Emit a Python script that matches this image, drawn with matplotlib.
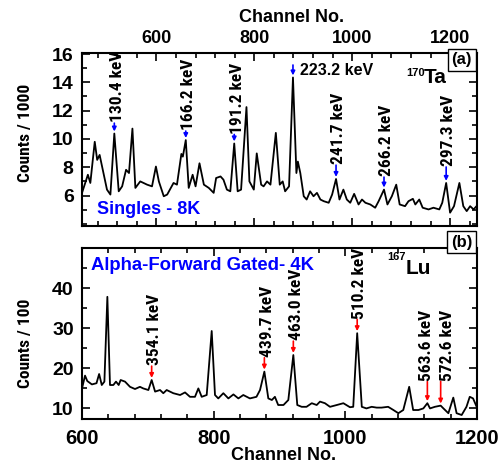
import matplotlib.pyplot as plt
from matplotlib.ticker import MultipleLocator

# fonts
bold_font = 'Liberation Sans'
narrow_font = ['Roboto Condensed', 'Archivo Narrow', 'Liberation Sans']
plt.rcParams['font.family'] = bold_font

# (a) Singles - 8K, 170Ta : channel, counts/1000
top_ch = [448, 460, 465, 474, 479, 484, 489, 499, 506, 514, 523, 530, 538, 544, 551,
          557, 567, 581, 591, 599, 605, 615, 622, 635, 642, 651, 654, 660, 666, 674,
          680, 688, 697, 707, 717, 722, 731, 737, 744, 751, 759, 766, 773, 784, 790,
          799, 805, 814, 819, 826, 833, 844, 852, 858, 863, 871, 879, 886, 889, 894,
          901, 907, 914, 921, 928, 935, 942, 952, 959, 967, 974, 982, 989, 996, 1004,
          1013, 1020, 1027, 1037, 1047, 1054, 1065, 1072, 1081, 1090, 1097, 1108, 1115,
          1124, 1129, 1137, 1144, 1156, 1166, 1178, 1184, 1192, 1200, 1208, 1219, 1227,
          1234, 1241, 1248, 1254]
top_cnt = [6.19, 7.47, 6.89, 9.80, 8.52, 8.87, 8.05, 6.42, 6.07, 10.38, 6.30, 6.65, 7.82, 7.59, 10.73,
           6.54, 7.00, 6.77, 6.65, 8.05, 7.00, 5.95, 6.07, 6.89, 6.77, 8.94, 8.75, 9.92, 6.54, 7.47,
           6.65, 8.28, 6.77, 6.54, 6.19, 7.24, 7.35, 7.12, 6.42, 6.30, 9.68, 6.30, 6.42, 12.25, 7.00,
           6.42, 8.98, 6.77, 6.65, 7.00, 6.77, 10.43, 6.77, 7.00, 6.30, 6.65, 14.34, 7.59, 8.40, 7.59,
           5.95, 5.72, 6.30, 5.95, 6.19, 5.72, 5.60, 5.49, 6.07, 7.17, 5.72, 6.42, 5.72, 5.49, 6.12,
           5.37, 5.72, 5.49, 5.37, 5.14, 5.60, 6.42, 5.37, 5.95, 6.77, 5.37, 5.25, 5.60,
           5.77, 5.37, 5.72, 5.14, 5.02, 5.14, 5.02, 5.49, 6.89, 4.79, 5.25, 6.89, 5.25,
           4.90, 5.25, 5.02, 5.25]
top_peak_ch = [514, 660, 759, 967, 1065, 1192]
top_peak_cnt = [10.38, 9.92, 9.68, 7.17, 6.42, 6.89]
top_peak_lbl = ['130.4 keV', '166.2 keV', '191.2 keV', '241.7 keV', '266.2 keV', '297.3 keV']
top_lbl_gap = [8, 7, 7, 10.5, 9.5, 12]
top_lbl_dx = [2, 2, 2, 2, 2, 2]
big_peak = (879, 14.34, '223.2 keV')

# (b) Alpha-Forward Gated - 4K, 167Lu : channel, counts/100
bot_ch = [600, 604.6, 608, 615, 622, 626, 630, 634, 638.5, 642.5, 647.6, 651.6, 655.7, 658.7,
          665.3, 672.9, 680.5, 688, 693, 700.8, 705.8, 711, 718.5, 723.5, 728.6, 738.7, 749,
          756.5, 764, 771.6, 776.7, 781.8, 789.4, 797, 802, 807, 814.7, 822.3, 830, 837.5, 845,
          855, 865, 870.4, 877, 883, 888.4, 893, 898, 906, 913.4, 921, 927, 933.7, 941, 949,
          956.5, 961.5, 969, 976.7, 987, 997, 1007, 1012, 1018, 1025, 1032, 1040, 1047.6, 1055,
          1065, 1073, 1080.5, 1088, 1097, 1103, 1111, 1118.5, 1124.6, 1128.6, 1136, 1144.8, 1149,
          1156.5, 1164, 1169, 1176.7, 1184, 1189, 1194, 1199.5]
bot_cnt = [14.9, 18.1, 16.75, 15.9, 16.2, 18.5, 15.75, 16.6, 37.8, 15.75, 15.75, 16.6, 15.75, 17.0,
           16.6, 15.3, 14.75, 15.3, 14.9, 14.5, 17.0, 14.1, 14.5, 13.7, 14.5, 13.7, 13.25,
           13.9, 12.8, 12.8, 14.9, 12.8, 13.25, 29.25, 13.25, 12.4, 13.7, 12.4, 13.4, 12.4, 13.25,
           12.4, 12.8, 14.5, 19.1, 12.4, 12.0, 12.8, 10.75, 10.75, 12.0, 23.25, 10.75, 10.3, 10.3, 11.2,
           10.75, 11.6, 11.2, 10.3, 10.75, 11.2, 10.2, 10.3, 28.7, 10.3, 9.9, 10.3, 10.1, 10.1,
           10.3, 9.5, 8.7, 9.5, 15.3, 9.5, 9.5, 9.9, 11.2, 9.9, 10.3, 10.6, 9.9,
           8.7, 12.6, 8.7, 8.25, 10.3, 12.8, 12.4, 10.3]
bot_peak_ch = [705.8, 877, 921, 1018, 1124.6, 1144.8]
bot_peak_cnt = [17.0, 19.1, 23.25, 28.7, 11.2, 10.6]
bot_peak_lbl = ['354.1 keV', '439.7 keV', '463.0 keV', '510.2 keV', '563.6 keV', '572.6 keV']
bot_lbl_gap = [10.5, 10.5, 10.5, 10.5, 16, 18]
bot_lbl_dx = [2, 2, 2, 2, -0.5, 5]

fig = plt.figure(figsize=(5.01, 4.65), dpi=100)
ax1 = fig.add_axes([0.1637, 0.514, 0.7884, 0.372])
ax2 = fig.add_axes([0.1637, 0.0989, 0.7884, 0.3677])

for ax in (ax1, ax2):
    for s in ax.spines.values():
        s.set_linewidth(1.5)
    ax.tick_params(which='both', direction='in', top=True, right=True, width=1.2)
    ax.tick_params(which='major', length=6)
    ax.tick_params(which='minor', length=3.5)
    ax.xaxis.set_major_locator(MultipleLocator(200))
    ax.xaxis.set_minor_locator(MultipleLocator(40))


def mark(ax, c, v, lbl, gap, dx, col):
    ax.annotate('', xy=(c, v), xytext=(0, gap - 0.5), textcoords='offset points',
                arrowprops=dict(arrowstyle='-|>', color=col, lw=1.2,
                                shrinkA=0, shrinkB=1.5, mutation_scale=6))
    ax.annotate(lbl, xy=(c, v), xytext=(dx, gap), textcoords='offset points',
                rotation=90, ha='center', va='bottom', fontsize=12.5,
                family=narrow_font, fontweight='semibold')


# ---- top panel
ax1.plot(top_ch, top_cnt, '-k', linewidth=1.3)
ax1.set_xlim(448, 1255)
ax1.set_ylim(3.85, 16.07)
ax1.set_yticks([6, 8, 10, 12, 14, 16])
ax1.yaxis.set_minor_locator(MultipleLocator(1))
ax1.tick_params(axis='x', labeltop=True, labelbottom=False, labelsize=13, pad=4)
ax1.tick_params(axis='y', labelsize=14, pad=6)
for t in ax1.get_xticklabels() + ax1.get_yticklabels():
    t.set_fontweight('bold')
ax1.set_xlabel('Channel No.', fontsize=13, fontweight='bold')
ax1.xaxis.set_label_position('top')
ax1.xaxis.set_label_coords(0.53, 1.18)
ax1.set_ylabel('Counts / 1000', fontsize=12.5, family=narrow_font, fontweight='semibold')
ax1.yaxis.set_label_coords(-0.124, 0.54)

for c, v, l, g, d in zip(top_peak_ch, top_peak_cnt, top_peak_lbl, top_lbl_gap, top_lbl_dx):
    mark(ax1, c, v, l, g, d, 'blue')
ax1.annotate('', xy=(big_peak[0], big_peak[1]), xytext=(0, 9), textcoords='offset points',
             arrowprops=dict(arrowstyle='-|>', color='blue', lw=1.2,
                             shrinkA=0, shrinkB=1.5, mutation_scale=6))
ax1.annotate(big_peak[2], xy=(big_peak[0], big_peak[1]), xytext=(5, 5),
             textcoords='offset points', ha='left', va='center',
             fontsize=11.5, fontweight='bold')

ax1.text(0.038, 0.098, 'Singles - 8K', transform=ax1.transAxes, color='blue',
         fontsize=13, fontweight='bold', va='center', ha='left')
ax1.text(0.868, 0.885, '170', transform=ax1.transAxes, fontsize=8,
         fontweight='bold', ha='right', va='center')
ax1.text(0.866, 0.858, 'Ta', transform=ax1.transAxes, fontsize=15,
         fontweight='bold', ha='left', va='center')
ax1.text(0.961, 0.96, '(a)', transform=ax1.transAxes, fontsize=12,
         fontweight='bold', ha='center', va='center',
         bbox=dict(boxstyle='square,pad=0.22', fc='white', ec='black', lw=1))

# ---- bottom panel
ax2.plot(bot_ch, bot_cnt, '-k', linewidth=1.3)
ax2.set_xlim(600, 1200)
ax2.set_ylim(7.25, 50)
ax2.set_yticks([10, 20, 30, 40])
ax2.yaxis.set_minor_locator(MultipleLocator(5))
ax2.tick_params(axis='x', labelsize=14.5, pad=7)
ax2.tick_params(axis='y', labelsize=14, pad=6)
for t in ax2.get_xticklabels() + ax2.get_yticklabels():
    t.set_fontweight('bold')
ax2.set_xlabel('Channel No.', fontsize=13, fontweight='bold')
ax2.xaxis.set_label_coords(0.511, -0.165)
ax2.set_ylabel('Counts / 100', fontsize=12.5, family=narrow_font, fontweight='semibold')
ax2.yaxis.set_label_coords(-0.124, 0.444)

for c, v, l, g, d in zip(bot_peak_ch, bot_peak_cnt, bot_peak_lbl, bot_lbl_gap, bot_lbl_dx):
    mark(ax2, c, v, l, g, d, 'red')

ax2.text(0.023, 0.90, 'Alpha-Forward Gated- 4K', transform=ax2.transAxes, color='blue',
         fontsize=13.3, fontweight='bold', va='center', ha='left')
ax2.text(0.82, 0.945, '167', transform=ax2.transAxes, fontsize=8,
         fontweight='bold', ha='right', va='center')
ax2.text(0.82, 0.88, 'Lu', transform=ax2.transAxes, fontsize=15,
         fontweight='bold', ha='left', va='center')
ax2.text(0.961, 1.035, '(b)', transform=ax2.transAxes, fontsize=12,
         fontweight='bold', ha='center', va='center',
         bbox=dict(boxstyle='square,pad=0.22', fc='white', ec='black', lw=1))

plt.savefig('out.png', dpi=100)
